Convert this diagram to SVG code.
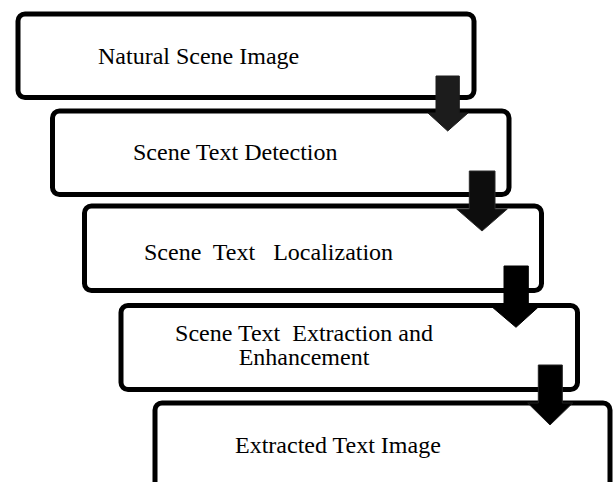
<svg xmlns="http://www.w3.org/2000/svg" width="614" height="482" viewBox="0 0 614 482">
<style>
.box{fill:#fff;stroke:#000;stroke-width:5}
.lbl{font-family:"Liberation Serif","Times New Roman",serif;font-size:24px;fill:#000;white-space:pre}
.arr{stroke-width:1}
</style>
<rect width="614" height="482" fill="#fff"/>
<g id="n1"><rect class="box" x="18" y="14" width="456" height="83.5" rx="7"/><text class="lbl" x="98" y="64">Natural Scene Image</text></g>
<g id="n2"><rect class="box" x="52.5" y="111" width="456.5" height="83.5" rx="7"/><text class="lbl" x="133" y="160">Scene Text Detection</text></g>
<g id="n3"><rect class="box" x="84.5" y="206" width="457" height="84.5" rx="7"/><text class="lbl" x="144" y="260" xml:space="preserve">Scene  Text   Localization</text></g>
<g id="n4"><rect class="box" x="121" y="305.5" width="456.5" height="84" rx="7"/><text class="lbl" text-anchor="middle" xml:space="preserve"><tspan x="304" y="341">Scene Text  Extraction and</tspan><tspan x="304" y="365">Enhancement</tspan></text></g>
<g id="n5"><rect class="box" x="155" y="403" width="455" height="110" rx="7"/><text class="lbl" x="235" y="452.5">Extracted Text Image</text></g>
<g id="connectors">
<polygon class="arr" fill="#1c1c1c" stroke="#1c1c1c" points="436,76 459.3,76 459.3,113 468,113 447.7,131 428,113 436,113"/>
<polygon class="arr" fill="#0d0d0d" stroke="#2a2a2a" points="469.3,171 495,171 495,209 507.3,209 482,231 456.7,209 469.3,209"/>
<polygon class="arr" fill="#000" stroke="#000" points="504,266 528.3,266 528.3,308 537.3,308 516,327.3 493.3,308 504,308"/>
<polygon class="arr" fill="#000" stroke="#222" points="538.3,365 562.3,365 562.3,403 572.7,403 550,425 527.7,403 538.3,403"/>
</g>
</svg>
